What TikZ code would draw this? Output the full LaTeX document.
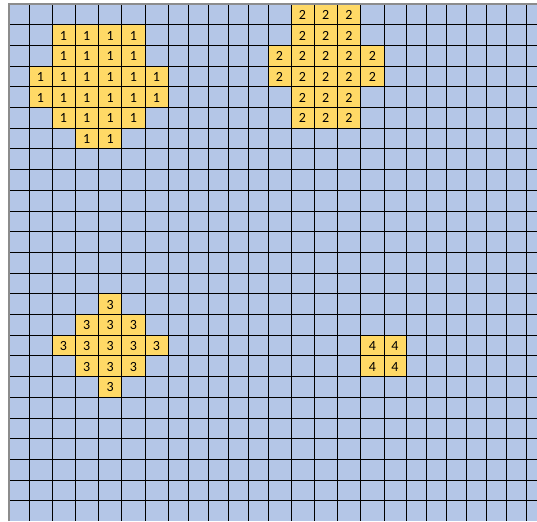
\documentclass[tikz,border=0pt]{standalone}
\usepackage{fontspec}
\setmainfont{Carlito}
\definecolor{cellblue}{HTML}{B4C6E7}
\definecolor{cellyellow}{HTML}{FFD966}
\definecolor{edgegray}{HTML}{8C8C8C}
\begin{document}
\begin{tikzpicture}[x=1pt,y=-1pt,
  gridline/.style={black,line width=0.9pt},
  edgeline/.style={edgegray,line width=1.6pt},
  digit/.style={inner sep=0pt,font=\fontsize{14}{14}\selectfont}]
\useasboundingbox (0,0) rectangle (537,521);
\def\xs{{9,29,52,75,98.5,121.7,145,168,188,208,228,248,268,291,314,337.3,360.7,384,406,426,446,466,486,506,526,537}}
% background
\fill[cellblue] (9,4) rectangle (537,521);
% yellow cells with numbers
\foreach \r/\a/\b/\d in {1/2/5/1,2/2/5/1,3/1/6/1,4/1/6/1,5/2/5/1,6/3/4/1,
  0/13/15/2,1/13/15/2,2/12/16/2,3/12/16/2,4/13/15/2,5/13/15/2,
  14/4/4/3,15/3/5/3,16/2/6/3,17/3/5/3,18/4/4/3,
  16/16/17/4,17/16/17/4}{
  \foreach \c in {\a,...,\b}{
    \pgfmathsetmacro\xa{\xs[\c]}
    \pgfmathsetmacro\xb{\xs[\c+1]}
    \pgfmathsetmacro\ya{4+20.7*\r}
    \pgfmathsetmacro\yb{4+20.7*(\r+1)}
    \fill[cellyellow] (\xa,\ya) rectangle (\xb,\yb);
    \node[digit] (n-\c-\r) at ({(\xa+\xb)/2},{(\ya+\yb)/2+0.5}) {\d};
  }
}
% grid lines
\foreach \i in {1,...,24}{
  \pgfmathsetmacro\xx{\xs[\i]}
  \draw[gridline] (\xx,4) -- (\xx,521);
}
\foreach \k in {1,...,24}{
  \pgfmathsetmacro\yy{4+20.7*\k}
  \draw[gridline] (9,\yy) -- (537,\yy);
}
\draw[edgeline] (9,521) -- (9,4) -- (537,4);
\end{tikzpicture}
\end{document}
